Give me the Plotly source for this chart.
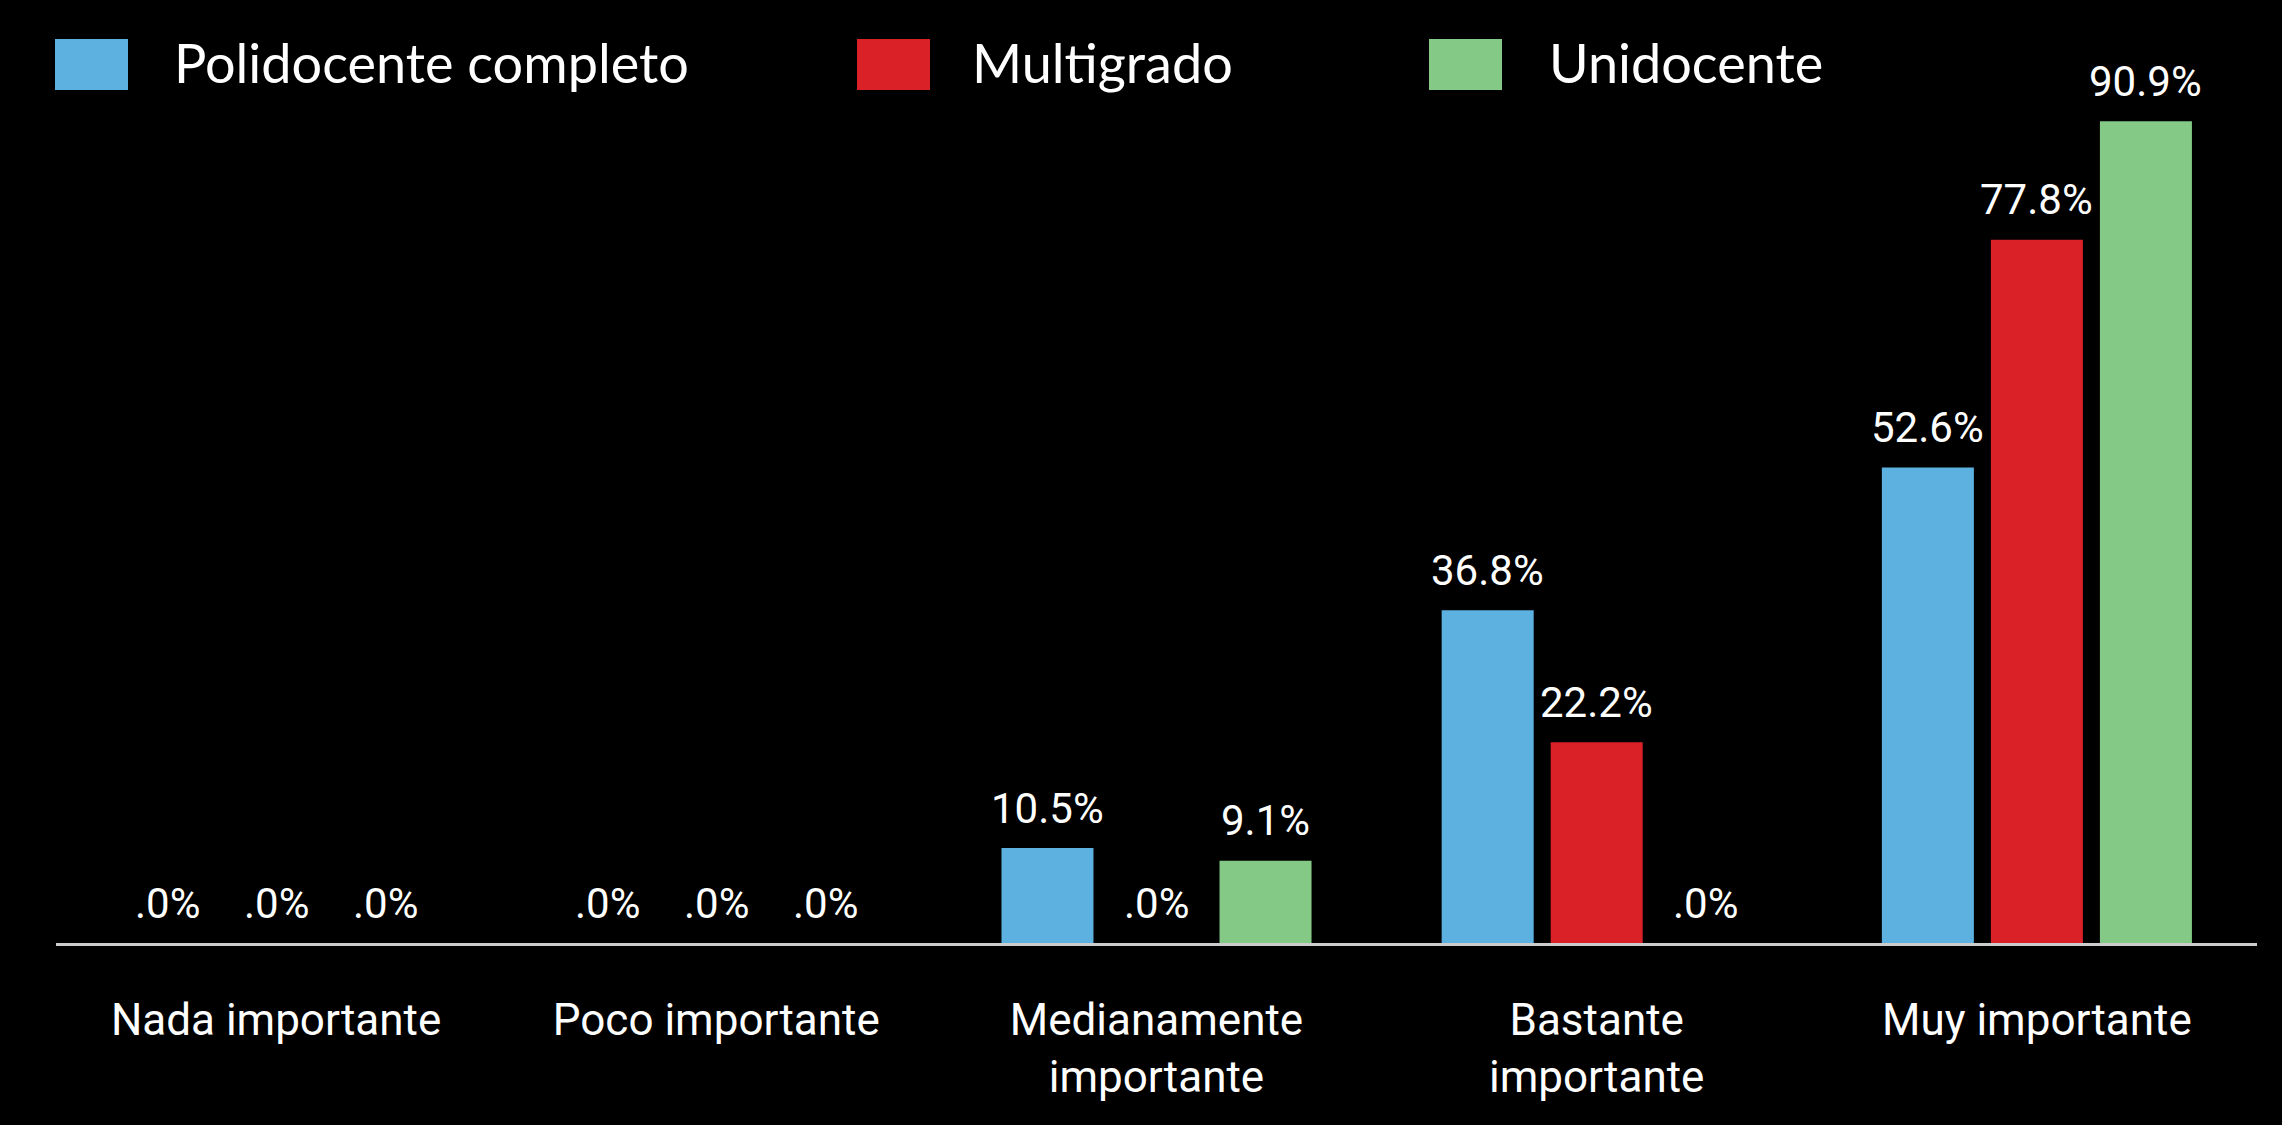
import plotly.graph_objects as go

categories = ["Nada importante", "Poco importante", "Medianamente<br>importante",
              "Bastante<br>importante", "Muy importante"]
series_names = ["Polidocente completo", "Multigrado", "Unidocente"]
polidocente = [0.0, 0.0, 10.5, 36.8, 52.6]
multigrado = [0.0, 0.0, 0.0, 22.2, 77.8]
unidocente = [0.0, 0.0, 9.1, 0.0, 90.9]
colors = ["#5DB1E1", "#DA2128", "#85C987"]

W, H = 2282, 1125
L, R, T, B = 56, 25, 39, 182
PW, PH = W - L - R, H - T - B
BARGAP, GROUPGAP = 0.257, 0.156

COND = "Roboto, Liberation Sans Narrow, DejaVu Sans Condensed, sans-serif"
LEG = "Lato, Open Sans, sans-serif"


def fmt(v):
    s = f"{v:.1f}%"
    return s[1:] if s.startswith("0") else s


all_series = [polidocente, multigrado, unidocente]
fig = go.Figure()
for name, vals, col in zip(series_names, all_series, colors):
    fig.add_trace(go.Bar(
        x=categories, y=vals, name=name, marker=dict(color=col, line=dict(width=0)),
    ))

# value labels placed above each bar (offset by group slot)
cat_px = PW / len(categories)
slot_px = cat_px * (1 - BARGAP) / len(all_series)
for si, vals in enumerate(all_series):
    dx = (si - (len(all_series) - 1) / 2) * slot_px
    for c, v in zip(categories, vals):
        fig.add_annotation(x=c, y=v, xref="x", yref="y", text=fmt(v), showarrow=False,
                           xanchor="center", yanchor="middle", xshift=dx, yshift=40,
                           font=dict(family=COND, size=42, color="white"))

# custom legend (large swatches)
leg_px = [(55, 172), (857, 970), (1429, 1547)]
for (sx, tx), name, col in zip(leg_px, series_names, colors):
    fig.add_shape(type="rect", xref="paper", yref="paper",
                  x0=(sx - L) / PW, x1=(sx + 73 - L) / PW,
                  y0=1 - (90 - T) / PH, y1=1 - (39 - T) / PH,
                  fillcolor=col, line=dict(width=0), layer="above")
    fig.add_annotation(xref="paper", yref="paper", x=(tx - L) / PW, y=1 - (62 - T) / PH,
                       xanchor="left", yanchor="middle", text=name, showarrow=False,
                       font=dict(family=LEG, size=54, color="white"))

fig.update_layout(
    width=W, height=H,
    margin=dict(l=L, r=R, t=T, b=B, pad=0),
    paper_bgcolor="black", plot_bgcolor="black",
    barmode="group", bargap=BARGAP, bargroupgap=GROUPGAP,
    showlegend=False,
    xaxis=dict(showline=True, linecolor="#cccccc", linewidth=3, ticks="",
               tickfont=dict(family=COND, size=44, color="white"),
               ticklabelstandoff=36,
               showgrid=False, zeroline=False),
    yaxis=dict(range=[0, 100], visible=False, showgrid=False, zeroline=False),
)

fig.write_html("out.html", config={"displayModeBar": False},
               post_script="document.body.style.margin='0';document.body.style.overflow='hidden';")
